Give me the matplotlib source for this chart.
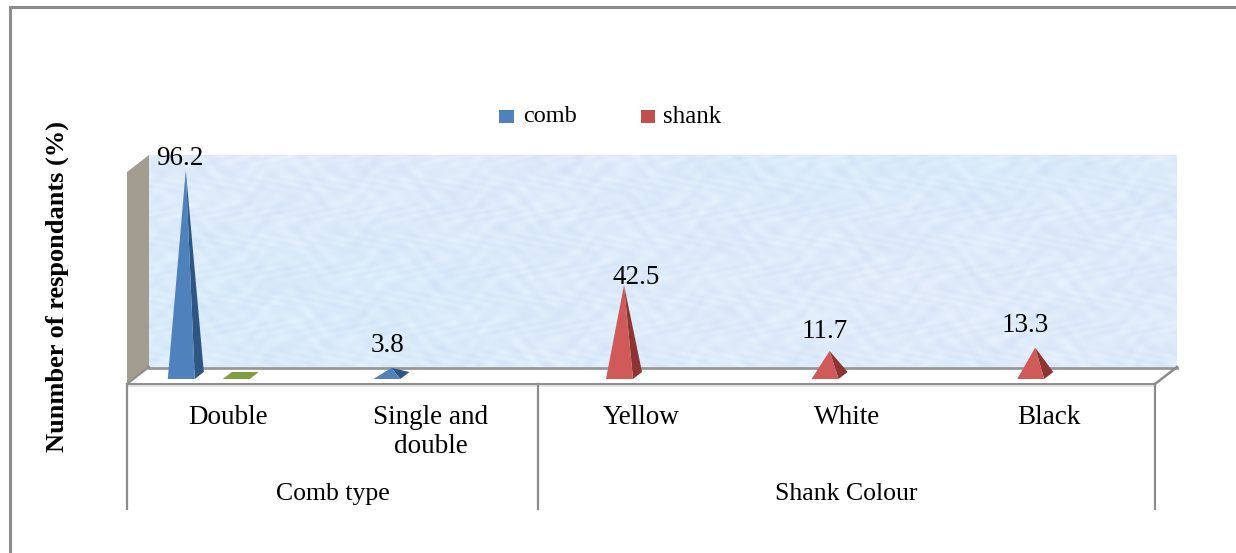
import matplotlib
matplotlib.use('Agg')
import matplotlib.pyplot as plt
from matplotlib.patches import Polygon, Rectangle
import numpy as np

plt.rcParams['font.family'] = ['Liberation Serif', 'DejaVu Serif']

categories = ['Double', 'Single and\ndouble', 'Yellow', 'White', 'Black']
groups = ['Comb type', 'Shank Colour']
group_sizes = [2, 3]
comb = [96.2, 3.8, None, None, None]
unnamed = [0, None, None, None, None]  # flat green marker, not in the legend
shank = [None, None, 42.5, 11.7, 13.3]
ylabel = 'Nunmber of respondants (%)'

W, H = 1236, 553
AX_L, AX_R = 127, 1155     # category axis in pixels
BASE_Y = 379               # where value 0 sits
PX_PER_UNIT = 2.14
CAT_W = (AX_R - AX_L) / len(categories)
GRAY = '#8c8c8c'

fig = plt.figure(figsize=(W / 100, H / 100), dpi=100)

# background layer works in pixels
bg = fig.add_axes([0, 0, 1, 1])
bg.set_xlim(0, W)
bg.set_ylim(H, 0)
bg.axis('off')

# outer frame
bg.plot([10, 10], [553, 7], color=GRAY, lw=2.2)
bg.plot([10, 1236], [7, 7], color=GRAY, lw=2.2)

# back wall, soft watery texture
xx, yy = np.meshgrid(np.linspace(0, 1, 1030), np.linspace(0, 1, 212))
tex = (np.sin(190 * xx + 9 * np.sin(23 * yy)) + np.sin(67 * yy + 7 * np.sin(59 * xx))
       + 0.7 * np.sin(283 * xx - 49 * yy) + 0.7 * np.sin(161 * xx + 37 * yy)
       + 0.8 * np.sin(37 * xx + 3) * np.sin(17 * yy + 1)) / 4.2
pink = np.sin(5 * xx + 1) * np.sin(4 * yy + 2)
img = np.dstack([0.865 + 0.04 * tex + 0.015 * pink,
                 0.92 + 0.03 * tex,
                 0.98 + 0.012 * tex])
bg.imshow(np.clip(img, 0, 1), extent=(148, 1177, 367, 155), aspect='auto', interpolation='bilinear')
bg.set_xlim(0, W)
bg.set_ylim(H, 0)

# side wall
bg.add_patch(Polygon([(127, 172), (149, 155), (149, 367), (127, 384)], color='#a39c90', lw=0))

# floor edges
bg.plot([149, 1177], [368, 368], color='#979797', lw=2)
bg.plot([127, 1155], [384, 384], color=GRAY, lw=1.4, zorder=3)
bg.plot([127, 1155], [386, 386], color='#e2e2e2', lw=1.4, zorder=2)
bg.plot([127, 149], [384, 367], color=GRAY, lw=1.4)
bg.plot([1155, 1177], [384, 367], color=GRAY, lw=1.8)

# category table lines
edges = [0] + list(np.cumsum(group_sizes))
for e in edges:
    x = AX_L + e * CAT_W
    bg.plot([x, x], [384, 509], color=GRAY, lw=1.6)

# text under the axis
cat_nudge = [-2, -5, 0, 0, -3]
for i, c in enumerate(categories):
    bg.text(AX_L + (i + 0.5) * CAT_W + cat_nudge[i], 405, c, ha='center', va='top',
            fontsize=19.5, linespacing=1.2, color='black')
for k, g in enumerate(groups):
    x = AX_L + (edges[k] + edges[k + 1]) / 2 * CAT_W
    bg.text(x, 494, g, ha='center', va='center', fontsize=18.5, color='black')

bg.text(57, 287, ylabel, rotation=90, ha='center', va='center', fontsize=19,
        fontweight='bold', color='black')

# legend
bg.add_patch(Rectangle((499, 110), 15, 13, color='#4f81bd', lw=0))
bg.text(523, 117, 'comb', va='center', ha='left', fontsize=17.5)
bg.add_patch(Rectangle((641, 110), 14, 13, color='#c0504d', lw=0))
bg.text(663, 117, 'shank', va='center', ha='left', fontsize=18)

# chart layer: x is category index, y is the value
top_val = 100
ax = fig.add_axes([AX_L / W, 1 - BASE_Y / H, (AX_R - AX_L) / W, top_val * PX_PER_UNIT / H])
ax.set_xlim(-0.5, len(categories) - 0.5)
ax.set_ylim(0, top_val)
ax.axis('off')
ax.patch.set_alpha(0)


def pyramid(ax, x, v, front, side, flat):
    dx = 1 / CAT_W
    dy = 1 / PX_PER_UNIT
    fl, fr, br = x - 18 * dx, x + 9 * dx, x + 18 * dx
    back = 7 * dy
    if v == 0:
        ax.add_patch(Polygon([(fl, 0), (fr, 0), (br, back), (fl + 9 * dx, back)],
                             color=flat, lw=0, clip_on=False))
        return
    apex = (x, v + 3 * dy)
    ax.add_patch(Polygon([(fr, 0), (br, back), apex], color=side, lw=0, clip_on=False))
    ax.add_patch(Polygon([(fl, 0), (fr, 0), apex], color=front, lw=0, clip_on=False))


def draw_series(ax, values, offset, front, side, flat=None):
    for i, v in enumerate(values):
        if v is not None:
            pyramid(ax, i + offset / CAT_W, v, front, side, flat)


draw_series(ax, comb, -44, '#4f81bd', '#2f5583')
draw_series(ax, unnamed, 11, '#7f9f3f', '#5f7a2f', '#7f9f3f')
draw_series(ax, shank, -17, '#cf5a58', '#8c3432')

# data labels, offsets in pixels from the apex
label_off = {0: (-6, 15), 1: (-4, 25), 2: (12, 11), 3: (-5, 22), 4: (-10, 25)}
for i in range(len(categories)):
    if comb[i] is not None:
        v, off = comb[i], -44
    else:
        v, off = shank[i], -17
    ox, oy = label_off[i]
    ax.annotate(str(v), xy=(i + off / CAT_W, v), xytext=(ox * 0.72, oy * 0.72),
                textcoords='offset points', ha='center', va='center', fontsize=19.5,
                color='black', annotation_clip=False)

fig.savefig('out.png', dpi=100, facecolor='white')
